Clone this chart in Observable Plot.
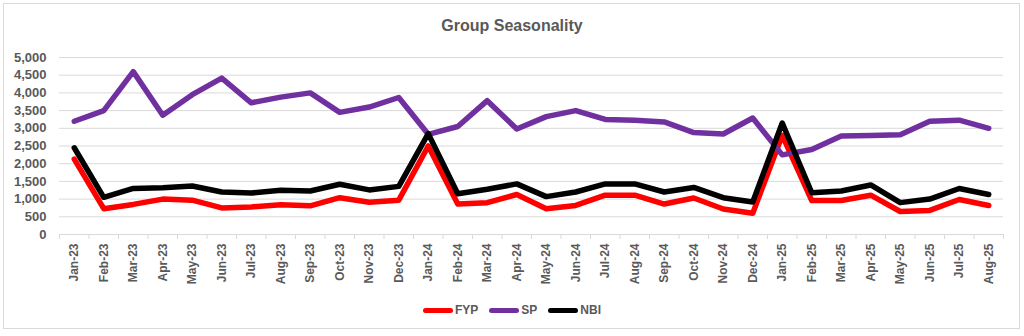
<!DOCTYPE html>
<html>
<head>
<meta charset="utf-8">
<script src="https://cdn.jsdelivr.net/npm/d3@7"></script>
<script src="https://cdn.jsdelivr.net/npm/@observablehq/plot@0.6"></script>
<style>
  html, body { margin: 0; padding: 0; background: #fff; }
  #wrap { position: relative; width: 1024px; height: 336px; overflow: hidden; font-family: "Liberation Sans", Arial, sans-serif; }
  #frame { position: absolute; left: 3px; top: 3px; width: 1017px; height: 326px; border: 1px solid #d9d9d9; box-sizing: border-box; }
  #title { position: absolute; left: 0; width: 1024px; top: 17px; text-align: center; font-size: 16px; font-weight: bold; color: #595959; }
  #chart { position: absolute; left: 0; top: 0; }
  #legend { position: absolute; top: 303px; left: 0; width: 1024px; display: flex; justify-content: center; align-items: center; gap: 11px; font-size: 12px; font-weight: bold; color: #595959; }
  .item { display: flex; align-items: center; }
  .sw { width: 30px; height: 5px; border-radius: 3px; margin-right: 2px; }
</style>
</head>
<body>
<div id="wrap">
  <div id="frame"></div>
  <div id="chart"></div>
  <div id="title">Group Seasonality</div>
  <div id="legend"></div>
</div>
<script>
const months = ["Jan-23","Feb-23","Mar-23","Apr-23","May-23","Jun-23","Jul-23","Aug-23","Sep-23","Oct-23","Nov-23","Dec-23",
  "Jan-24","Feb-24","Mar-24","Apr-24","May-24","Jun-24","Jul-24","Aug-24","Sep-24","Oct-24","Nov-24","Dec-24",
  "Jan-25","Feb-25","Mar-25","Apr-25","May-25","Jun-25","Jul-25","Aug-25"];
const fyp = [2130,730,850,1000,970,750,780,840,810,1040,910,970,
  2500,860,900,1130,730,820,1110,1110,860,1030,720,600,
  2800,960,960,1110,650,680,990,820];
const sp = [3200,3500,4600,3370,3950,4420,3720,3880,4000,3450,3600,3870,
  2830,3050,3780,2980,3330,3500,3250,3230,3180,2880,2840,3290,
  2250,2400,2780,2800,2820,3200,3230,3000];
const nbi = [2450,1050,1300,1320,1370,1200,1170,1250,1230,1420,1260,1360,
  2850,1150,1280,1430,1070,1200,1430,1430,1200,1330,1040,920,
  3150,1180,1230,1400,900,1000,1300,1130];
const seriesNames = ["FYP","SP","NBI"];
const seriesColors = ["#ff0000","#7030a0","#000000"];
const yTicks = [0,500,1000,1500,2000,2500,3000,3500,4000,4500,5000];

const seriesValues = [fyp, sp, nbi];
const data = seriesNames.flatMap((s, i) => months.map((m, j) => ({series: s, month: m, value: seriesValues[i][j]})));

const W = 1024, H = 336, mL = 59, mR = 21;
const step = (W - mL - mR) / months.length;

const chart = Plot.plot({
  width: W, height: H,
  marginLeft: mL, marginRight: mR, marginTop: 57, marginBottom: 102,
  style: {fontFamily: "Liberation Sans, Arial, sans-serif", color: "#595959", background: "transparent"},
  x: {type: "point", domain: months, padding: 0.5, round: false},
  y: {domain: [0, 5000]},
  color: {domain: seriesNames, range: seriesColors},
  marks: [
    Plot.gridY(yTicks, {stroke: "#d9d9d9", strokeOpacity: 1, strokeWidth: 1}),
    Plot.ruleY([0], {stroke: "#d9d9d9", strokeWidth: 1}),
    Plot.ruleX(months, {x: d => d, y1: 0, y2: -140, dx: -step / 2, stroke: "#d9d9d9", clip: false}),
    Plot.ruleX([months[months.length - 1]], {x: d => d, y1: 0, y2: -140, dx: step / 2, stroke: "#d9d9d9", clip: false}),
    Plot.axisY({ticks: yTicks, tickSize: 0, tickPadding: 13, tickFormat: d3.format(","), fontSize: 13, fontWeight: "bold", label: null}),
    Plot.axisX({tickRotate: -90, tickSize: 0, tickPadding: 9, fontSize: 12, fontWeight: "bold", label: null}),
    Plot.line(data, {x: "month", y: "value", z: "series", stroke: "series", strokeWidth: 5.5, strokeLinejoin: "round", strokeLinecap: "round"})
  ]
});
document.getElementById("chart").appendChild(chart);

const legend = document.getElementById("legend");
seriesNames.forEach((s, i) => {
  const it = document.createElement("div");
  it.className = "item";
  const sw = document.createElement("div");
  sw.className = "sw";
  sw.style.background = seriesColors[i];
  const t = document.createElement("span");
  t.textContent = s;
  it.appendChild(sw); it.appendChild(t);
  legend.appendChild(it);
});
</script>
</body>
</html>
